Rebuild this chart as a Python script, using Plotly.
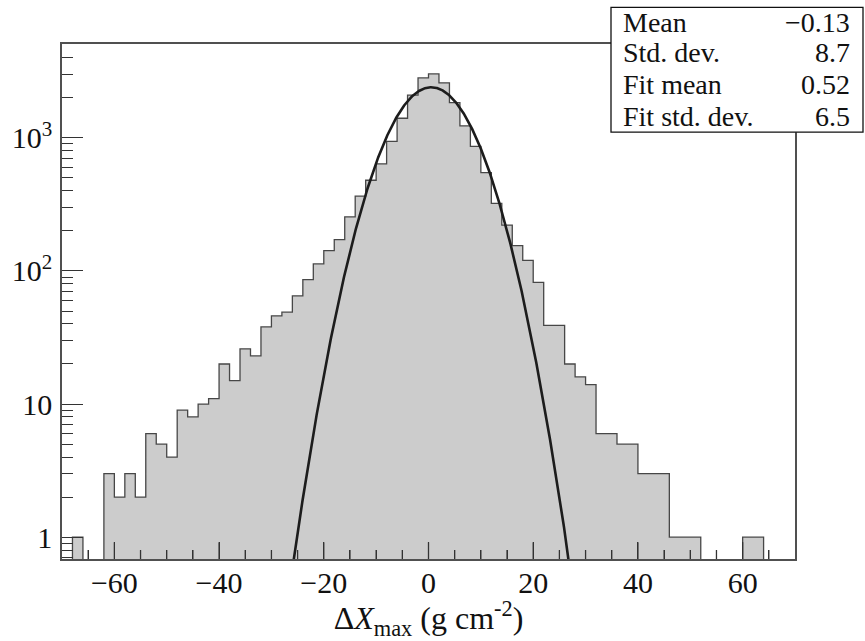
import numpy as np
import plotly.graph_objects as go

# Histogram of Delta Xmax: 2 g/cm^2 bins starting at -68
bin_start = -68
bin_width = 2
counts = [1, 0, 0, 3, 2, 3, 2, 6, 5, 4, 9, 8, 10, 11, 20, 15, 26, 23, 38, 46,
          49, 65, 86, 113, 142, 172, 255, 365, 480, 638, 942, 1404, 2093, 2820,
          3020, 2590, 1837, 1231, 864, 547, 322, 221, 155, 120, 82, 39, 39, 20,
          16, 14, 6, 6, 5, 5, 3, 3, 3, 1, 1, 1, 0, 0, 0, 0, 1, 1]

# Gaussian fit parameters
fit_mean = 0.52
fit_sigma = 6.5
fit_peak = 2400

# Summary statistics
stat_names = ["Mean", "Std. dev.", "Fit mean", "Fit std. dev."]
stat_values = ["\u22120.13", "8.7", "0.52", "6.5"]

x_ticks = [-60, -40, -20, 0, 20, 40, 60]
x_minor = [v for v in range(-65, 70, 5) if v % 20 != 0]
y_ticks = [1, 10, 100, 1000]
y_ticktext = ["1", "10", "10<sup>2</sup>", "10<sup>3</sup>"]
y_minor = [m * 10 ** e for e in range(-1, 4) for m in range(2, 10)
           if 0.68 < m * 10 ** e < 5100]

# Step outline of the histogram (empty bins drop below the axis floor)
floor = 1e-2
edges = [bin_start + i * bin_width for i in range(len(counts) + 1)]
sx, sy = [edges[0]], [floor]
for i, c in enumerate(counts):
    v = c if c > 0 else floor
    sx += [edges[i], edges[i + 1]]
    sy += [v, v]
sx.append(edges[-1])
sy.append(floor)

xf = np.linspace(-30, 31, 800)
yf = fit_peak * np.exp(-0.5 * ((xf - fit_mean) / fit_sigma) ** 2)

fig = go.Figure()
fig.add_trace(go.Scatter(x=sx, y=sy, mode="lines", fill="toself",
                         fillcolor="#cccccc",
                         line=dict(color="#474747", width=1.3),
                         hoverinfo="skip"))
fig.add_trace(go.Scatter(x=xf, y=yf, mode="lines",
                         line=dict(color="#1c1c1c", width=2.6)))

W, H = 865, 641
ml, mr, mt, mb = 62, 70, 44, 77
pw, ph = W - ml - mr, H - mt - mb


def px(xp):
    return (xp - ml) / pw


def py(yp):
    return (H - mb - yp) / ph


serif = "Liberation Serif, Times New Roman, serif"
tick_style = dict(ticks="inside", tickwidth=1.3, tickcolor="#333333",
                  showgrid=False)

fig.update_layout(
    width=W, height=H,
    margin=dict(l=ml, r=mr, t=mt, b=mb),
    paper_bgcolor="white", plot_bgcolor="white",
    showlegend=False,
    font=dict(family=serif, color="#111111", size=30),
    xaxis=dict(
        range=[-70, 70], tickmode="array", tickvals=x_ticks,
        ticklen=17, layer="above traces",
        ticks="inside", tickwidth=1.3, tickcolor="#333333",
        showline=True, linecolor="#505050", linewidth=1.6, mirror=True,
        showgrid=False, zeroline=False,
        tickfont=dict(family=serif, size=30, color="#111111"),
        ticklabelstandoff=-4,
        minor=dict(tickmode="array", tickvals=x_minor, ticklen=9,
                   **tick_style),
        title=dict(text="\u0394<i>X</i><sub>max</sub> (g cm<sup>-2</sup>)",
                   font=dict(family=serif, size=32, color="#111111"),
                   standoff=8),
    ),
    yaxis=dict(
        type="log", range=[-0.164, 3.705],
        tickmode="array", tickvals=y_ticks, ticktext=y_ticktext,
        ticklen=21, layer="above traces",
        ticks="inside", tickwidth=1.3, tickcolor="#333333",
        showline=True, linecolor="#505050", linewidth=1.6, mirror=True,
        showgrid=False, zeroline=False,
        tickfont=dict(family=serif, size=30, color="#111111"),
        ticklabelstandoff=2,
        minor=dict(tickmode="array", tickvals=y_minor, ticklen=11,
                   **tick_style),
    ),
)

# Bottom-axis tick marks kept on top of the filled histogram
for v in x_ticks + x_minor:
    tl = 17 if v in x_ticks else 9
    fig.add_shape(type="line", xref="x", yref="paper", x0=v, x1=v,
                  y0=0, y1=tl / ph, layer="above",
                  line=dict(color="#333333", width=1.3))

# Statistics box
fig.add_shape(type="rect", xref="paper", yref="paper",
              x0=px(611), x1=px(863), y0=py(133), y1=py(7),
              fillcolor="white", line=dict(color="#111111", width=1.3),
              layer="above")
row_y = [22, 53, 85, 117]
for name, val, ry in zip(stat_names, stat_values, row_y):
    fig.add_annotation(xref="paper", yref="paper", x=px(621), y=py(ry),
                       text=name, showarrow=False, xanchor="left",
                       yanchor="middle",
                       font=dict(family=serif, size=28, color="#111111"))
    fig.add_annotation(xref="paper", yref="paper", x=px(852), y=py(ry),
                       text=val, showarrow=False, xanchor="right",
                       yanchor="middle",
                       font=dict(family=serif, size=28, color="#111111"))

fig.write_html("out.html")
